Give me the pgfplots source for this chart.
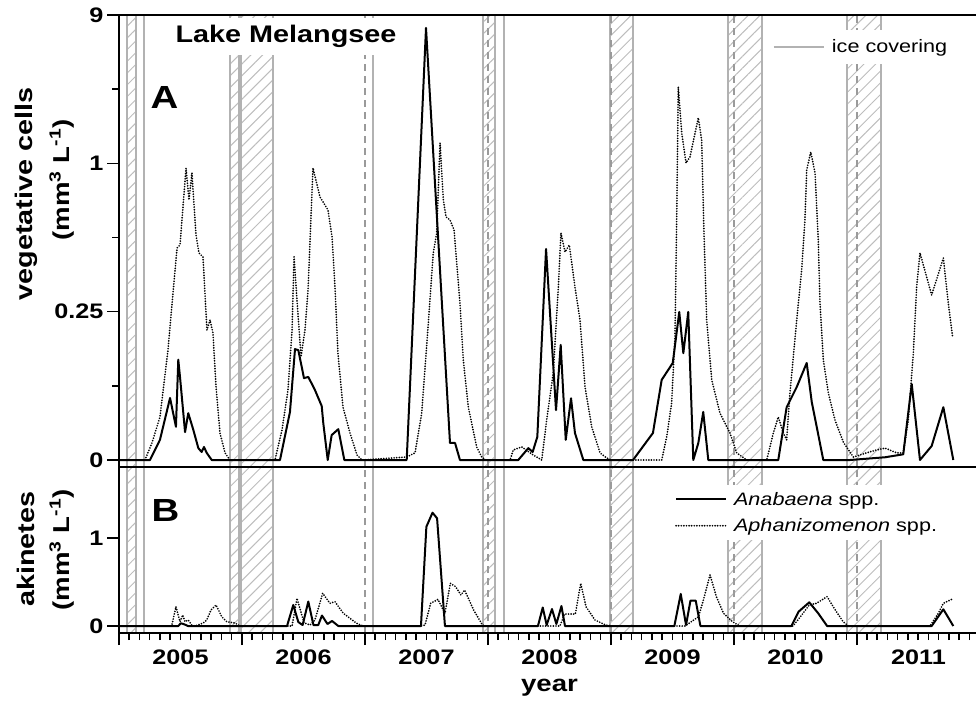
\documentclass[border=0pt]{standalone}
\usepackage{fontspec}
\setmainfont{Liberation Sans}[FakeStretch=1.2]
\usepackage{pgfplots}
\pgfplotsset{compat=1.18}
\usetikzlibrary{patterns.meta}
\definecolor{bandgray}{HTML}{B2B2B2}
\definecolor{hatchgray}{HTML}{BDBDBD}
\definecolor{dashgray}{HTML}{9A9A9A}
\newcommand{\fs}[1]{\fontsize{#1bp}{#1bp}\selectfont}
\newcommand{\iceband}[2]{%
  \fill[pattern={Lines[angle=45,distance=8.3bp,line width=1bp]},pattern color=hatchgray]
    ({axis cs:#1,0}|-{rel axis cs:0,0}) rectangle ({axis cs:#2,0}|-{rel axis cs:0,1});
  \draw[bandgray,line width=2bp] ({axis cs:#1,0}|-{rel axis cs:0,0}) -- ({axis cs:#1,0}|-{rel axis cs:0,1});
  \draw[bandgray,line width=2bp] ({axis cs:#2,0}|-{rel axis cs:0,0}) -- ({axis cs:#2,0}|-{rel axis cs:0,1});}
\newcommand{\iceline}[1]{\draw[bandgray,line width=2bp] ({axis cs:#1,0}|-{rel axis cs:0,0}) -- ({axis cs:#1,0}|-{rel axis cs:0,1});}
\newcommand{\yearline}[1]{\draw[dashgray,line width=1.1bp,dash pattern=on 7bp off 5bp] ({axis cs:#1,0}|-{rel axis cs:0,0}) -- ({axis cs:#1,0}|-{rel axis cs:0,1});}
\newcommand{\allbands}{%
 \iceband{2005.065}{2005.142}\iceline{2005.203}%
 \iceband{2005.902}{2005.976}\iceband{2005.992}{2006.252}%
 \yearline{2007}\iceline{2007.067}%
 \iceband{2007.959}{2008.057}\yearline{2008}\iceline{2008.130}%
 \iceband{2008.992}{2009.179}\yearline{2009}%
 \iceband{2009.951}{2010.228}\yearline{2010}%
 \iceband{2010.919}{2011.195}\yearline{2011}}
\pgfplotsset{
  base/.style={scale only axis, width=861bp, xmin=2005, xmax=2012, axis on top,
    tick align=outside, tick pos=left, axis line style={line width=2bp},
    tick style={black, line width=1.5bp}, major tick length=12bp, minor tick length=7bp,
    /pgf/number format/assume math mode=true, ticklabel style={font=\fs{21}\bfseries},
    legend image code/.code={\draw[##1] (0bp,0bp) -- (50bp,0bp);},
    legend style={draw=none, fill=white, font=\fs{18}, cells={anchor=west}}},
  anab/.style={black, line width=2bp, line join=round},
  aphan/.style={black, line width=1.9bp, line cap=round, dash pattern=on 0bp off 2.6bp},
}
\begin{document}
\begin{tikzpicture}
\useasboundingbox (0,0) rectangle (976bp,-705bp);
% ---------------- panel A: vegetative cells ----------------
\begin{axis}[base, at={(119bp,-15bp)}, anchor=north west, height=452bp,
  ymin=-0.0118, ymax=9,
  y coord trafo/.code={\pgfmathparse{(#1<0.25)*4*(#1)+(1-(#1<0.25))*(#1<1)*(1+((#1)-0.25)/0.75)+(1-(#1<1))*(2+((#1)-1)/8)}},
  y coord inv trafo/.code={\pgfmathparse{(#1<1)*(#1)/4+(1-(#1<1))*(#1<2)*(0.25+0.75*((#1)-1))+(1-(#1<2))*(1+8*((#1)-2))}},
  ytick={0,0.25,1,9}, yticklabels={0,0.25,1,9}, minor ytick={0.125,0.625,5},
  xtick=\empty,
  legend style={at={(rel axis cs:0.75,0.929)}, anchor=west, inner xsep=8bp, inner ysep=8bp,
    nodes={inner xsep=7bp}},
]
\addlegendimage{bandgray, line width=2bp}\addlegendentry{ice covering}
\allbands
\addplot[aphan, forget plot] coordinates {
(2005.000,0) (2005.211,0) (2005.268,0.0287) (2005.333,0.0725) (2005.398,0.185) (2005.439,0.344) (2005.472,0.572) (2005.496,0.587) (2005.545,0.976) (2005.569,0.815) (2005.593,0.951) (2005.626,0.638) (2005.650,0.547) (2005.683,0.526) (2005.715,0.219) (2005.740,0.236) (2005.764,0.214) (2005.789,0.123) (2005.821,0.0455) (2005.862,0.012) (2005.902,0)
(2006.268,0) (2006.325,0.0506) (2006.374,0.118) (2006.407,0.219) (2006.423,0.527) (2006.447,0.309) (2006.480,0.174) (2006.512,0.219) (2006.537,0.3595) (2006.577,0.976) (2006.634,0.83) (2006.699,0.764) (2006.732,0.628) (2006.756,0.375) (2006.780,0.180) (2006.821,0.089) (2006.878,0.0455) (2006.935,0.0084) (2006.976,0)
(2007.339,0.005) (2007.407,0.012) (2007.461,0.079) (2007.515,0.231) (2007.555,0.547) (2007.583,0.648) (2007.610,2.10) (2007.637,0.815) (2007.659,0.729) (2007.691,0.714) (2007.724,0.663) (2007.772,0.294) (2007.799,0.169) (2007.840,0.089) (2007.908,0.022) (2007.949,0.005) (2007.984,0)
(2008.179,0) (2008.206,0.017) (2008.274,0.022) (2008.368,0.0084) (2008.437,0) (2008.477,0.0674) (2008.531,0.147) (2008.572,0.375) (2008.593,0.648) (2008.626,0.552) (2008.661,0.587) (2008.707,0.375) (2008.748,0.236) (2008.789,0.123) (2008.843,0.056) (2008.911,0.012) (2008.965,0.0034) (2009.008,0)
(2009.412,0) (2009.453,0.039) (2009.493,0.096) (2009.520,0.207) (2009.534,0.714) (2009.547,5.12) (2009.575,2.64) (2009.610,1.02) (2009.642,1.34) (2009.710,3.45) (2009.737,2.26) (2009.756,0.648) (2009.778,0.236) (2009.819,0.135) (2009.886,0.079) (2009.967,0.0455) (2010.022,0.012) (2010.103,0)
(2010.266,0) (2010.320,0.0455) (2010.360,0.0725) (2010.401,0.0455) (2010.428,0.034) (2010.455,0.113) (2010.510,0.236) (2010.550,0.461) (2010.577,0.714) (2010.591,0.966) (2010.624,1.61) (2010.659,0.951) (2010.685,0.612) (2010.699,0.294) (2010.726,0.169) (2010.767,0.113) (2010.821,0.0674) (2010.889,0.030) (2010.970,0.005)
(2011.079,0.012) (2011.160,0.017) (2011.228,0.020) (2011.323,0.012) (2011.376,0.012) (2011.417,0.0674) (2011.458,0.180) (2011.485,0.375) (2011.512,0.547) (2011.607,0.334) (2011.702,0.521) (2011.742,0.294) (2011.778,0.206)
};
\addplot[anab, forget plot] coordinates {
(2005.000,0) (2005.252,0) (2005.333,0.034) (2005.415,0.1045) (2005.463,0.056) (2005.482,0.169) (2005.496,0.14) (2005.537,0.047) (2005.563,0.079) (2005.604,0.051) (2005.645,0.020) (2005.672,0.0135) (2005.691,0.022) (2005.713,0.012) (2005.754,0)
(2006.309,0) (2006.390,0.081) (2006.431,0.187) (2006.458,0.185) (2006.504,0.138) (2006.539,0.14) (2006.593,0.118) (2006.648,0.091) (2006.661,0.062) (2006.697,0) (2006.729,0.042) (2006.783,0.052) (2006.832,0)
(2007.339,0) (2007.496,8.30) (2007.691,0.0287) (2007.732,0.0287) (2007.772,0)
(2008.246,0) (2008.328,0.020) (2008.363,0.0135) (2008.401,0.039) (2008.472,0.567) (2008.553,0.084) (2008.591,0.194) (2008.632,0.034) (2008.675,0.104) (2008.707,0.0455) (2008.775,0)
(2009.179,0) (2009.341,0.0455) (2009.412,0.135) (2009.502,0.1635) (2009.555,0.2495) (2009.588,0.180) (2009.628,0.2495) (2009.669,0) (2009.710,0.0287) (2009.750,0.081) (2009.791,0)
(2010.360,0) (2010.428,0.089) (2010.510,0.123) (2010.591,0.1635) (2010.632,0.098) (2010.726,0)
(2010.943,0) (2011.228,0.0046) (2011.376,0.0096) (2011.445,0.128) (2011.512,0) (2011.607,0.0236) (2011.702,0.089) (2011.783,0)
};
\end{axis}
% ---------------- panel B: akinetes ----------------
\begin{axis}[base, at={(119bp,-467bp)}, anchor=north west, height=166bp,
  ymin=-0.0795, ymax=1.807,
  ytick={0,1}, yticklabels={0,1},
  xtick={2005,2006,2007,2008,2009,2010,2011,2012}, xticklabels={},
  minor xtick={2005,2005.0833333,...,2012},
  extra x ticks={2005.5,2006.5,2007.5,2008.5,2009.5,2010.5,2011.5},
  extra x tick labels={2005,2006,2007,2008,2009,2010,2011},
  extra x tick style={major tick length=0pt, xticklabel style={yshift=-13bp}},
  legend style={at={(rel axis cs:0.634,0.726)}, anchor=west, inner xsep=10bp, inner ysep=5bp,
    row sep=8bp, nodes={inner xsep=7bp}},
]
\allbands
\addplot[anab] coordinates {
(2005.000,0) (2005.482,0) (2005.502,0.031) (2005.523,0.023) (2005.545,0.011) (2005.561,0)
(2006.366,0) (2006.417,0.239) (2006.458,0.045) (2006.493,0.011) (2006.539,0.278) (2006.581,0.011) (2006.620,0.011) (2006.650,0.119) (2006.695,0.023) (2006.732,0.057) (2006.783,0)
(2007.455,0) (2007.499,1.128) (2007.549,1.288) (2007.586,1.224) (2007.650,0)
(2008.406,0) (2008.445,0.21) (2008.477,0.011) (2008.520,0.193) (2008.556,0.023) (2008.597,0.227) (2008.626,0)
(2009.515,0) (2009.567,0.364) (2009.610,0.011) (2009.646,0.288) (2009.689,0.288) (2009.727,0)
(2010.467,0) (2010.525,0.163) (2010.612,0.269) (2010.685,0.144) (2010.757,0)
(2011.607,0) (2011.702,0.19) (2011.783,0)
};
\addlegendentry{\textit{Anabaena} spp.}
\addplot[aphan] coordinates {
(2005.000,0) (2005.428,0) (2005.463,0.219) (2005.496,0.049) (2005.518,0.125) (2005.537,0.049) (2005.563,0.068) (2005.591,0.011) (2005.618,0) (2005.685,0.034) (2005.713,0.068) (2005.748,0.182) (2005.789,0.239) (2005.835,0.106) (2005.876,0.049) (2005.943,0.034) (2005.984,0)
(2006.407,0) (2006.447,0.315) (2006.504,0.0375) (2006.553,0.011) (2006.593,0.068) (2006.656,0.372) (2006.715,0.258) (2006.756,0.276) (2006.824,0.144) (2006.932,0.031) (2006.986,0)
(2007.455,0) (2007.488,0.011) (2007.534,0.258) (2007.593,0.303) (2007.650,0.144) (2007.694,0.485) (2007.737,0.447) (2007.780,0.352) (2007.810,0.409) (2007.883,0.182) (2007.955,0.011) (2007.984,0)
(2008.585,0) (2008.622,0.136) (2008.710,0.136) (2008.754,0.485) (2008.797,0.219) (2008.870,0.068) (2008.957,0.011) (2009.008,0)
(2009.602,0) (2009.712,0.106) (2009.755,0.315) (2009.805,0.58) (2009.857,0.333) (2009.915,0.144) (2009.988,0.049) (2010.046,0)
(2010.480,0) (2010.540,0.106) (2010.612,0.239) (2010.670,0.258) (2010.757,0.333) (2010.815,0.201) (2010.887,0.049) (2010.931,0)
(2011.593,0) (2011.661,0.144) (2011.702,0.258) (2011.770,0.303)
};
\addlegendentry{\textit{Aphanizomenon} spp.}
\end{axis}
% ---------------- text ----------------
\node[fill=white, inner sep=0pt, minimum width=240bp, minimum height=37bp, font=\fs{24}\bfseries] at (286bp,-36.5bp) {Lake Melangsee};
\node[font=\fs{32}\bfseries] at (164.5bp,-97.5bp) {A};
\node[font=\fs{32}\bfseries] at (165.5bp,-510bp) {B};
\node[rotate=90, font=\fs{24}\bfseries] at (26bp,-194bp) {vegetative cells};
\node[rotate=90, font=\fs{23}\bfseries] at (62bp,-180bp) {(mm\textsuperscript{3} L\textsuperscript{-1})};
\node[rotate=90, font=\fs{24}\bfseries] at (26bp,-549bp) {akinetes};
\node[rotate=90, font=\fs{23}\bfseries] at (62bp,-550bp) {(mm\textsuperscript{3} L\textsuperscript{-1})};
\node[font=\fs{23}\bfseries] at (549.5bp,-688bp) {year};
\end{tikzpicture}
\end{document}
